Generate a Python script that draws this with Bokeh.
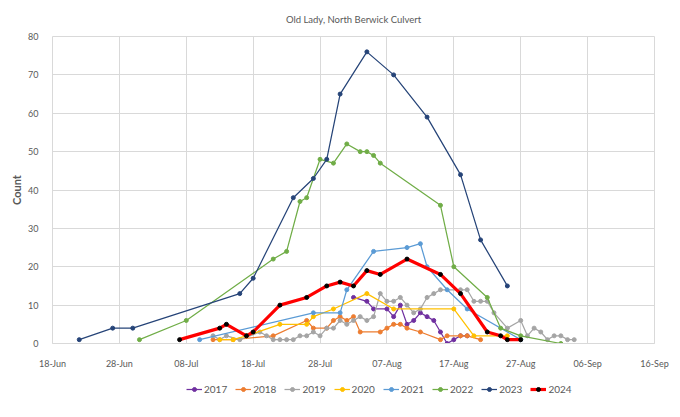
from datetime import datetime
from bokeh.plotting import figure
from bokeh.layouts import column
from bokeh.models import FixedTicker, DatetimeTickFormatter, Range1d, Legend
from bokeh.embed import file_html
from bokeh.resources import INLINE

# ---- data (all seasons plotted on a common calendar) ----
dates_2017 = ["02-Aug","04-Aug","05-Aug","07-Aug","08-Aug","09-Aug","10-Aug","11-Aug","12-Aug","13-Aug","14-Aug","15-Aug","16-Aug","17-Aug","18-Aug","19-Aug"]
count_2017 = [12,11,9,9,7,10,5,6,8,7,6,3,0,1,2,2]

dates_2018 = ["12-Jul","15-Jul","21-Jul","26-Jul","27-Jul","29-Jul","30-Jul","31-Jul","01-Aug","02-Aug","03-Aug","06-Aug","07-Aug","08-Aug","09-Aug","10-Aug","12-Aug","15-Aug","16-Aug","18-Aug","19-Aug","21-Aug"]
count_2018 = [1,1,2,6,4,4,6,7,6,7,3,3,4,5,5,4,3,1,2,2,2,1]

dates_2019 = ["12-Jul","13-Jul","14-Jul","16-Jul","19-Jul","20-Jul","21-Jul","22-Jul","23-Jul","24-Jul","25-Jul","26-Jul","27-Jul","28-Jul","29-Jul","30-Jul","31-Jul","01-Aug","02-Aug","03-Aug","04-Aug","05-Aug","06-Aug","07-Aug","08-Aug","09-Aug","10-Aug","11-Aug","12-Aug","13-Aug","14-Aug","15-Aug","18-Aug","19-Aug","20-Aug","21-Aug","22-Aug","23-Aug","25-Aug","27-Aug","28-Aug","29-Aug","30-Aug","31-Aug","01-Sep","02-Sep","03-Sep","04-Sep"]
count_2019 = [2,1,2,1,3,2,1,1,1,1,2,2,3,2,4,4,6,5,6,7,6,7,13,11,11,12,10,8,9,12,13,14,14,14,11,11,11,8,4,6,2,4,3,1,2,2,1,1]

dates_2020 = ["13-Jul","15-Jul","17-Jul","22-Jul","26-Jul","27-Jul","30-Jul","04-Aug","08-Aug","17-Aug","20-Aug","25-Aug"]
count_2020 = [1,1,2,5,5,7,9,13,9,9,2,2]

dates_2021 = ["10-Jul","27-Jul","31-Jul","01-Aug","05-Aug","10-Aug","12-Aug","13-Aug","16-Aug","19-Aug","27-Aug"]
count_2021 = [1,8,8,14,24,25,26,20,14,9,1]

dates_2022 = ["01-Jul","08-Jul","21-Jul","23-Jul","25-Jul","26-Jul","28-Jul","30-Jul","01-Aug","03-Aug","04-Aug","05-Aug","06-Aug","15-Aug","17-Aug","22-Aug","24-Aug","27-Aug","02-Sep"]
count_2022 = [1,6,22,24,37,38,48,47,52,50,50,49,47,36,20,12,4,2,0]

dates_2023 = ["22-Jun","27-Jun","30-Jun","16-Jul","18-Jul","24-Jul","27-Jul","29-Jul","31-Jul","04-Aug","08-Aug","13-Aug","18-Aug","21-Aug","25-Aug"]
count_2023 = [1,4,4,13,17,38,43,48,65,76,70,59,44,27,15]

dates_2024 = ["07-Jul","13-Jul","14-Jul","17-Jul","18-Jul","22-Jul","26-Jul","29-Jul","31-Jul","02-Aug","04-Aug","06-Aug","10-Aug","15-Aug","18-Aug","22-Aug","24-Aug","25-Aug","27-Aug"]
count_2024 = [1,4,5,2,3,10,12,15,16,15,19,18,22,18,13,3,2,1,1]

tick_labels = ["18-Jun","28-Jun","08-Jul","18-Jul","28-Jul","07-Aug","17-Aug","27-Aug","06-Sep","16-Sep"]
y_ticks = [0,10,20,30,40,50,60,70,80]

series = [
    ("2017", dates_2017, count_2017, "#7030A0"),
    ("2018", dates_2018, count_2018, "#ED7D31"),
    ("2019", dates_2019, count_2019, "#A5A5A5"),
    ("2020", dates_2020, count_2020, "#FFC000"),
    ("2021", dates_2021, count_2021, "#5B9BD5"),
    ("2022", dates_2022, count_2022, "#70AD47"),
    ("2023", dates_2023, count_2023, "#264478"),
    ("2024", dates_2024, count_2024, "#FF0000"),
]

def to_dt(s):
    return datetime.strptime(s + "-2024", "%d-%b-%Y")

FONT = "Lato"
TXT = "#595959"
W = 672

p = figure(width=W, height=375, x_axis_type="datetime",
           output_backend="svg", toolbar_location=None,
           min_border_left=52, min_border_right=18, min_border_top=36, min_border_bottom=32)
p.x_range = Range1d(to_dt(tick_labels[0]), to_dt(tick_labels[-1]))
p.y_range = Range1d(0, 80)

p.title.text = "Old Lady, North Berwick Culvert"
p.title.align = "center"
p.title.offset = -13
p.title.text_font = FONT
p.title.text_font_size = "9.5px"
p.title.text_font_style = "normal"
p.title.text_color = TXT
p.title.standoff = 23

tick_ms = [to_dt(t).timestamp() * 1000 for t in tick_labels]
p.xaxis.ticker = FixedTicker(ticks=tick_ms)
p.xaxis.formatter = DatetimeTickFormatter(days="%d-%b", months="%d-%b", years="%d-%b", hours="%d-%b")
p.yaxis.ticker = FixedTicker(ticks=y_ticks)

for ax in (p.xaxis, p.yaxis):
    ax.major_label_text_font = FONT
    ax.major_label_text_font_size = "9px"
    ax.major_label_text_color = TXT
    ax.major_tick_line_color = None
    ax.minor_tick_line_color = None
p.xaxis.axis_line_color = "#D9D9D9"
p.yaxis.axis_line_color = None
p.xaxis.major_label_standoff = 8
p.yaxis.major_label_standoff = 8
p.yaxis.axis_label = "Count"
p.yaxis.axis_label_text_font = FONT
p.yaxis.axis_label_text_font_size = "11px"
p.yaxis.axis_label_text_font_style = "bold"
p.yaxis.axis_label_text_color = TXT
p.yaxis.axis_label_standoff = 2

p.xgrid.ticker = FixedTicker(ticks=tick_ms)
p.xgrid.grid_line_color = "#D9D9D9"
p.ygrid.grid_line_color = "#D9D9D9"
p.outline_line_color = "#D9D9D9"

# legend lives in a thin companion figure below the chart; its ranges keep
# the proxy copies of the series out of view so only the legend shows
lf = figure(width=W, height=26, output_backend="svg", toolbar_location=None,
            min_border=0, x_range=Range1d(0, 1), y_range=Range1d(-2, -1))
lf.axis.visible = False
lf.grid.visible = False
lf.outline_line_color = None

items = []
for name, ds, vs, col in series:
    xs = [to_dt(s) for s in ds]
    wide = 3.2 if name == "2024" else 1.25
    mcol = "black" if name == "2024" else col
    p.line(xs, vs, line_color=col, line_width=wide)
    p.scatter(xs, vs, size=4, fill_color=mcol, line_color=mcol)
    l1 = lf.line(xs, vs, line_color=col, line_width=wide)
    l2 = lf.scatter(xs, vs, size=4, fill_color=mcol, line_color=mcol)
    items.append((name, [l1, l2]))

legend = Legend(items=items, orientation="horizontal", location=(134, 6))
legend.label_text_font = FONT
legend.label_text_font_size = "10px"
legend.label_text_color = TXT
legend.border_line_color = None
legend.background_fill_alpha = 0
legend.glyph_width = 16
legend.glyph_height = 10
legend.spacing = 8
legend.label_standoff = 2
legend.label_height = 10
legend.margin = 0
legend.padding = 0
lf.add_layout(legend, "center")

open("out.html", "w").write(file_html(column(p, lf, spacing=0), INLINE))
